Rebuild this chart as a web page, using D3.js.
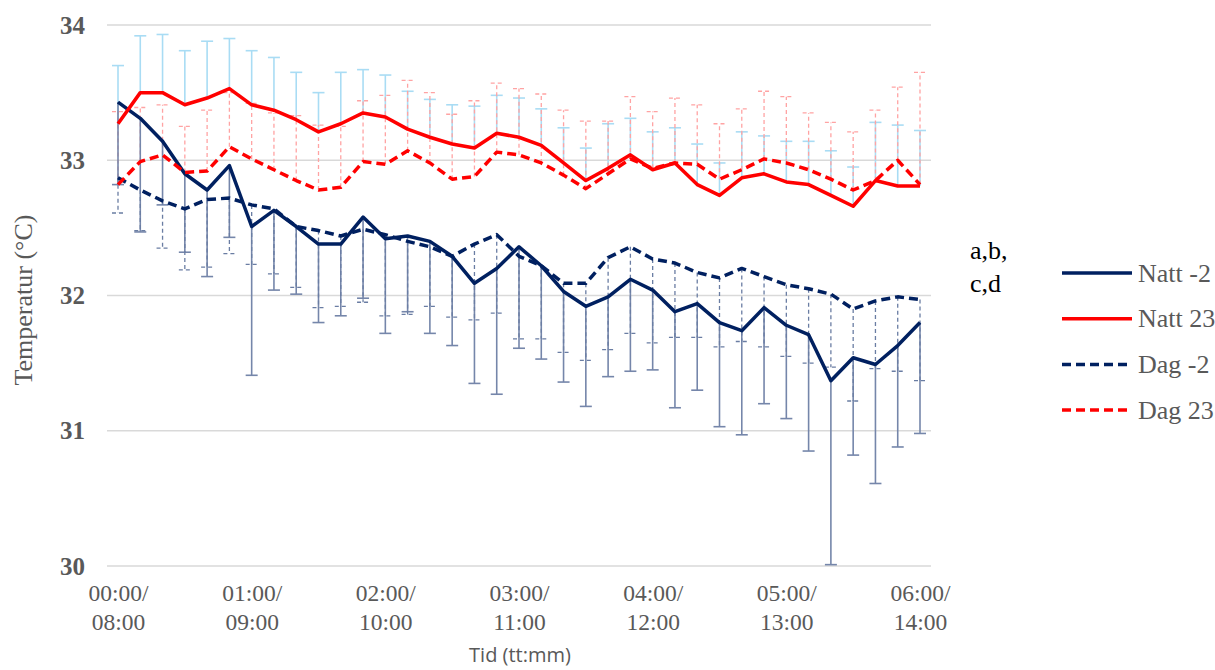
<!DOCTYPE html>
<html>
<head>
  <title>Temperatur natt / dag</title>
  <script src="https://d3js.org/d3.v7.min.js"></script>
  <style>
    body { margin: 0; background: #fff; }
    .serif { font-family: "Liberation Serif", "DejaVu Serif", "Times New Roman", Times, serif; }
    .sans { font-family: "Open Sans", "Liberation Sans", Arial, sans-serif; }
  </style>
</head>
<body>
  <div id="chart"></div>
  <script>
// 10-minute steps from 00:00 to 06:00 (37 points)
const tickLabels = [["00:00/", "08:00"], ["01:00/", "09:00"], ["02:00/", "10:00"], ["03:00/", "11:00"],
  ["04:00/", "12:00"], ["05:00/", "13:00"], ["06:00/", "14:00"]];
const yTicks = [30, 31, 32, 33, 34];

const nattM2 = [33.43, 33.31, 33.14, 32.90, 32.78, 32.96, 32.51, 32.63, 32.51, 32.38, 32.38, 32.58, 32.42,
  32.44, 32.40, 32.29, 32.09, 32.20, 32.36, 32.22, 32.03, 31.92, 31.99, 32.12, 32.04, 31.88,
  31.94, 31.80, 31.74, 31.91, 31.78, 31.71, 31.37, 31.54, 31.49, 31.63, 31.80];
const natt23 = [33.27, 33.50, 33.50, 33.41, 33.46, 33.53, 33.41, 33.37, 33.30, 33.21, 33.27, 33.35, 33.32,
  33.23, 33.17, 33.12, 33.09, 33.20, 33.17, 33.11, 32.98, 32.85, 32.94, 33.04, 32.93, 32.98,
  32.82, 32.74, 32.87, 32.90, 32.84, 32.82, 32.74, 32.66, 32.85, 32.81, 32.81];
const dagM2 = [32.87, 32.78, 32.70, 32.64, 32.71, 32.72, 32.67, 32.64, 32.51, 32.48, 32.44, 32.49, 32.45,
  32.40, 32.36, 32.29, 32.38, 32.45, 32.29, 32.22, 32.09, 32.09, 32.28, 32.36, 32.27, 32.24,
  32.17, 32.13, 32.20, 32.14, 32.08, 32.05, 32.01, 31.90, 31.96, 31.99, 31.97];
const dag23 = [32.82, 32.99, 33.04, 32.91, 32.92, 33.10, 33.01, 32.93, 32.85, 32.78, 32.80, 32.99, 32.97,
  33.07, 32.98, 32.86, 32.88, 33.06, 33.04, 32.98, 32.89, 32.79, 32.90, 33.01, 32.94, 32.98,
  32.97, 32.86, 32.93, 33.01, 32.98, 32.93, 32.86, 32.78, 32.85, 33.00, 32.82];

// error bar ends
const natt23Hi = [33.70, 33.92, 33.93, 33.81, 33.88, 33.90, 33.81, 33.76, 33.65, 33.50, 33.65, 33.67, 33.63,
  33.51, 33.45, 33.41, 33.40, 33.48, 33.46, 33.38, 33.24, 33.09, 33.27, 33.31, 33.21, 33.24,
  33.12, 32.98, 33.21, 33.18, 33.14, 33.14, 33.07, 32.95, 33.28, 33.26, 33.22];
const dag23Hi = [33.36, 33.39, 33.41, 33.25, 33.37, 33.50, 33.42, 33.35, 33.33, 33.26, 33.25, 33.44, 33.48,
  33.59, 33.50, 33.34, 33.44, 33.57, 33.53, 33.49, 33.37, 33.29, 33.29, 33.47, 33.36, 33.46,
  33.41, 33.27, 33.38, 33.51, 33.47, 33.35, 33.28, 33.21, 33.37, 33.54, 33.65];
const nattM2Lo = [32.82, 32.47, 32.67, 32.32, 32.14, 32.43, 31.41, 32.04, 32.01, 31.80, 31.85, 31.98, 31.72,
  31.88, 31.72, 31.63, 31.35, 31.27, 31.61, 31.53, 31.36, 31.18, 31.40, 31.44, 31.45, 31.17,
  31.30, 31.03, 30.97, 31.20, 31.09, 30.85, 30.01, 30.82, 30.61, 30.88, 30.98];
const dagM2Lo = [32.61, 32.48, 32.35, 32.19, 32.21, 32.31, 32.23, 32.16, 32.06, 31.91, 31.92, 31.95, 31.85,
  31.86, 31.92, 31.84, 31.82, 31.87, 31.68, 31.68, 31.58, 31.52, 31.60, 31.72, 31.65, 31.69,
  31.69, 31.62, 31.66, 31.62, 31.55, 31.50, 31.47, 31.22, 31.46, 31.44, 31.37];

const navy = "#002060", red = "#ff0000";
const series = [
  { name: "Natt -2", values: nattM2, color: navy, dash: null },
  { name: "Natt 23", values: natt23, color: red, dash: null },
  { name: "Dag -2", values: dagM2, color: navy, dash: "9,5" },
  { name: "Dag 23", values: dag23, color: red, dash: "9,5" }
];
const errBars = [
  { mean: natt23, end: natt23Hi, color: "#a9dcf4", dash: null, w: 1.6 },
  { mean: dag23, end: dag23Hi, color: "#ffa3a3", dash: "4,3", w: 1.3 },
  { mean: nattM2, end: nattM2Lo, color: "#7586aa", dash: null, w: 1.6 },
  { mean: dagM2, end: dagM2Lo, color: "#6a7da3", dash: "4,3", w: 1.3 }
];

const width = 1215, height = 670;
const svg = d3.select("#chart").append("svg")
  .attr("width", width).attr("height", height);

const idx = d3.range(nattM2.length);
const x = d3.scaleLinear().domain([0, idx.length - 1]).range([118, 920]);
const y = d3.scaleLinear().domain([30, 34]).range([566, 25]);

// gridlines
svg.append("g").selectAll("line").data(yTicks).join("line")
  .attr("x1", 107).attr("x2", 931)
  .attr("y1", d => y(d)).attr("y2", d => y(d))
  .attr("stroke", "#d9d9d9").attr("stroke-width", 1.5);

// y axis labels
const yAxis = svg.append("g").attr("transform", "translate(85,0)")
  .call(d3.axisLeft(y).tickValues(yTicks).tickSize(0).tickPadding(0).tickFormat(d3.format("d")))
  .attr("font-family", null);
yAxis.select(".domain").remove();
yAxis.selectAll("text")
  .attr("class", "serif")
  .attr("font-size", 25).attr("font-weight", "bold").attr("fill", "#595959");

// x axis labels (two lines)
const xAxis = svg.append("g").attr("transform", "translate(0,566)")
  .call(d3.axisBottom(x).tickValues(d3.range(0, 37, 6)).tickSize(0).tickFormat(""))
  .attr("font-family", null);
xAxis.select(".domain").remove();
xAxis.selectAll(".tick").each(function (d, i) {
  const t = d3.select(this).append("text")
    .attr("class", "serif")
    .attr("font-size", 23.5).attr("fill", "#595959").attr("text-anchor", "middle");
  t.append("tspan").attr("x", 0).attr("y", 35).text(tickLabels[i][0]);
  t.append("tspan").attr("x", 0).attr("y", 64).text(tickLabels[i][1]);
});

// error bars
errBars.forEach(e => {
  const g = svg.append("g").attr("stroke", e.color).attr("stroke-width", e.w)
    .attr("stroke-dasharray", e.dash);
  g.selectAll(".v").data(idx).join("line")
    .attr("x1", i => x(i)).attr("x2", i => x(i))
    .attr("y1", i => y(e.mean[i])).attr("y2", i => y(e.end[i]));
  g.selectAll(".c").data(idx).join("line")
    .attr("x1", i => x(i) - 6).attr("x2", i => x(i) + 6)
    .attr("y1", i => y(e.end[i])).attr("y2", i => y(e.end[i]));
});

// lines
const line = d3.line().x((d, i) => x(i)).y(d => y(d));
series.forEach(s => {
  svg.append("path").datum(s.values)
    .attr("d", line)
    .attr("fill", "none")
    .attr("stroke", s.color)
    .attr("stroke-width", 3.5)
    .attr("stroke-linejoin", "round")
    .attr("stroke-dasharray", s.dash);
});

// axis titles
svg.append("text")
  .attr("class", "serif")
  .attr("transform", "translate(32,300) rotate(-90)")
  .attr("text-anchor", "middle")
  .attr("font-size", 26).attr("fill", "#595959")
  .text("Temperatur (°C)");

svg.append("text")
  .attr("class", "sans")
  .attr("x", 520).attr("y", 662)
  .attr("text-anchor", "middle")
  .attr("font-size", 20).attr("fill", "#595959")
  .text("Tid (tt:mm)");

// significance note
const note = svg.append("text")
  .attr("class", "serif")
  .attr("font-size", 26).attr("fill", "#000");
note.append("tspan").attr("x", 970).attr("y", 259).text("a,b,");
note.append("tspan").attr("x", 970).attr("y", 292).text("c,d");

// legend
const legend = svg.append("g").attr("transform", "translate(1062,273)");
series.forEach((s, i) => {
  const row = legend.append("g").attr("transform", `translate(0,${i * 45.7})`);
  row.append("line").attr("x1", 0).attr("x2", 70)
    .attr("stroke", s.color).attr("stroke-width", 3.5)
    .attr("stroke-dasharray", s.dash);
  row.append("text").attr("class", "serif").attr("x", 76).attr("y", 8.5)
    .attr("font-size", 26).attr("fill", "#595959")
    .text(s.name);
});
  </script>
</body>
</html>
